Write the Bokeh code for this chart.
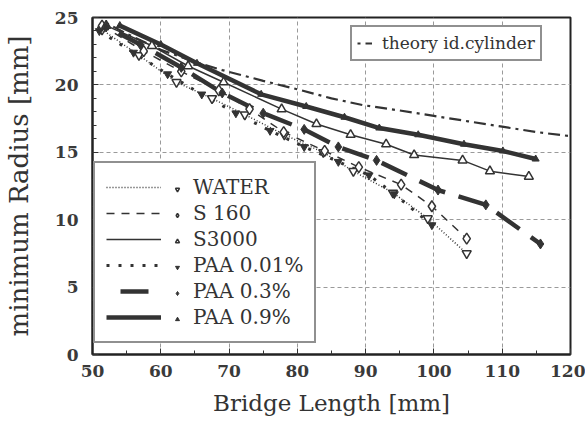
from bokeh.plotting import figure
from bokeh.models import (Range1d, SingleIntervalTicker, Legend, LegendItem)
from bokeh.embed import file_html
from bokeh.resources import INLINE

# ---------------- data ----------------
theory_x = [52, 55, 60, 65, 69, 75, 80.6, 85, 89.6, 95, 100, 105, 110, 115, 120]
theory_y = [24.6, 23.8, 22.6, 21.7, 21.1, 20.3, 19.6, 19.0, 18.5, 18.1, 17.7, 17.3, 16.9, 16.5, 16.2]

water_x = [51.4, 56.8, 62.3, 67.5, 72.3, 78.1, 83.8, 88.2, 94.0, 99.1, 104.8]
water_y = [24.1, 22.2, 20.2, 19.0, 17.8, 16.3, 15.0, 13.6, 12.0, 10.1, 7.5]

s160_x = [51.4, 57.5, 63, 68.5, 73, 78, 84, 89, 95.2, 99.7, 104.8]
s160_y = [24.4, 22.5, 21.0, 19.6, 18.2, 16.5, 15.1, 13.9, 12.6, 11.0, 8.6]

s3000_x = [52, 58.7, 64, 69.2, 77.7, 82.8, 87.8, 93.0, 97.1, 104.2, 108.2, 113.9]
s3000_y = [24.4, 22.9, 21.4, 20.2, 18.2, 17.1, 16.3, 15.6, 14.8, 14.4, 13.6, 13.2]

paa001_x = [51, 56, 61, 66, 71, 76, 81, 86, 90.5, 94.2, 99.7]
paa001_y = [24.0, 22.4, 20.8, 19.3, 17.9, 16.6, 15.4, 14.3, 13.3, 11.9, 9.6]

paa03_x = [52, 57, 63, 69, 75, 81, 86, 91.6, 100.6, 107.6, 115.6]
paa03_y = [24.3, 23.0, 21.3, 19.4, 17.9, 16.7, 15.4, 14.4, 12.2, 11.1, 8.2]

paa09_x = [54, 60, 65.3, 74.7, 81.3, 86.9, 92, 97.7, 104.4, 110.1, 114.9]
paa09_y = [24.4, 23.0, 21.6, 19.3, 18.4, 17.6, 16.8, 16.3, 15.6, 15.1, 14.5]

labels = ["WATER", "S 160", "S3000", "PAA 0.01%", "PAA 0.3%", "PAA 0.9%"]
theory_label = "theory id.cylinder"
x_title = "Bridge Length [mm]"
y_title = "minimum Radius [mm]"

# ---------------- figure ----------------
INK = "#333333"
SERIF = "DejaVu Serif"

p = figure(width=585, height=421, output_backend="svg", toolbar_location=None,
           x_range=Range1d(50, 120), y_range=Range1d(0, 25),
           min_border_left=89, min_border_right=15, min_border_top=17,
           min_border_bottom=67)
p.background_fill_color = "white"
p.border_fill_color = "white"
p.outline_line_color = "#222222"
p.outline_line_width = 2

p.xaxis.ticker = SingleIntervalTicker(interval=10, num_minor_ticks=2)
p.yaxis.ticker = SingleIntervalTicker(interval=5, num_minor_ticks=5)
for ax in (p.xaxis, p.yaxis):
    ax.axis_line_color = "#222222"
    ax.axis_line_width = 2
    ax.major_tick_in = 6
    ax.major_tick_out = 0
    ax.minor_tick_in = 4
    ax.minor_tick_out = 0
    ax.major_tick_line_color = INK
    ax.minor_tick_line_color = INK
    ax.major_label_text_font = SERIF
    ax.major_label_text_font_size = "17px"
    ax.major_label_text_font_style = "bold"
    ax.major_label_text_color = "#3a3a3a"
    ax.axis_label_text_font = SERIF
    ax.axis_label_text_font_style = "normal"
    ax.axis_label_text_color = INK
p.xaxis.major_label_standoff = 10
p.yaxis.major_label_standoff = 14
p.xaxis.axis_label = x_title
p.yaxis.axis_label = y_title
p.xaxis.axis_label_text_font_size = "23px"
p.yaxis.axis_label_text_font_size = "26px"
p.xaxis.axis_label_standoff = 10
p.yaxis.axis_label_standoff = 18

p.grid.grid_line_color = "#9a9a9a"
p.grid.grid_line_dash = "4 3"
p.grid.grid_line_width = 1

# ---------------- series ----------------
th = p.line(theory_x, theory_y, line_color=INK, line_width=2.2,
            line_dash="12 5 3 5", line_dash_offset=17)

l_water = p.line(water_x, water_y, line_color=INK, line_width=1.5, line_dash="1 2")
l_s160 = p.line(s160_x, s160_y, line_color=INK, line_width=1.5, line_dash="8 7")
l_s3000 = p.line(s3000_x, s3000_y, line_color=INK, line_width=1.5)
l_p001 = p.line(paa001_x, paa001_y, line_color=INK, line_width=3, line_dash="3 9")
l_p03 = p.line(paa03_x, paa03_y, line_color=INK, line_width=4.5, line_dash="28 14",
               line_dash_offset=28)
l_p09 = p.line(paa09_x, paa09_y, line_color=INK, line_width=4.5)

m_water = p.scatter(water_x, water_y, marker="inverted_triangle", size=9,
                    line_color=INK, line_width=1.5, fill_color="white")
m_s160 = p.scatter(s160_x, s160_y, marker="diamond", size=11,
                   line_color=INK, line_width=1.5, fill_color="white")
m_s3000 = p.scatter(s3000_x, s3000_y, marker="triangle", size=9,
                    line_color=INK, line_width=1.5, fill_color="white")
m_p001 = p.scatter(paa001_x, paa001_y, marker="inverted_triangle", size=8,
                   line_color=INK, fill_color=INK)
m_p03 = p.scatter(paa03_x, paa03_y, marker="diamond", size=10,
                  line_color=INK, fill_color=INK)
m_p09 = p.scatter(paa09_x, paa09_y, marker="triangle", size=7,
                  line_color=INK, fill_color=INK)

lines = [l_water, l_s160, l_s3000, l_p001, l_p03, l_p09]
marks = [m_water, m_s160, m_s3000, m_p001, m_p03, m_p09]

# ---------------- legends ----------------
common = dict(glyph_height=26, label_height=26, spacing=0, padding=11, margin=0,
              label_text_line_height=1.0)

leg_lines = Legend(items=[LegendItem(label=t, renderers=[r]) for t, r in zip(labels, lines)],
                   location=(1, 11), glyph_width=55, label_standoff=32,
                   label_text_font=SERIF, label_text_font_size="20px",
                   label_text_color=INK,
                   border_line_color="#222222", border_line_width=2,
                   background_fill_color="white", background_fill_alpha=1.0,
                   **common)
leg_marks = Legend(items=[LegendItem(label=" ", renderers=[r]) for r in marks],
                   location=(69, 11), glyph_width=10, label_standoff=0, label_width=0,
                   label_text_font_size="6px",
                   border_line_alpha=0, background_fill_alpha=0.0,
                   **common)
leg_theory = Legend(items=[LegendItem(label=theory_label, renderers=[th])],
                    location=(258, 293), glyph_width=15, glyph_height=22,
                    label_height=22, label_standoff=10, padding=5, margin=0,
                    label_text_line_height=1.0,
                    label_text_font=SERIF, label_text_font_size="17px",
                    label_text_color=INK,
                    border_line_color="#222222", border_line_width=2,
                    background_fill_color="white", background_fill_alpha=1.0)
p.add_layout(leg_lines, "center")
p.add_layout(leg_marks, "center")
p.add_layout(leg_theory, "center")

open("out.html", "w").write(file_html(p, INLINE))
